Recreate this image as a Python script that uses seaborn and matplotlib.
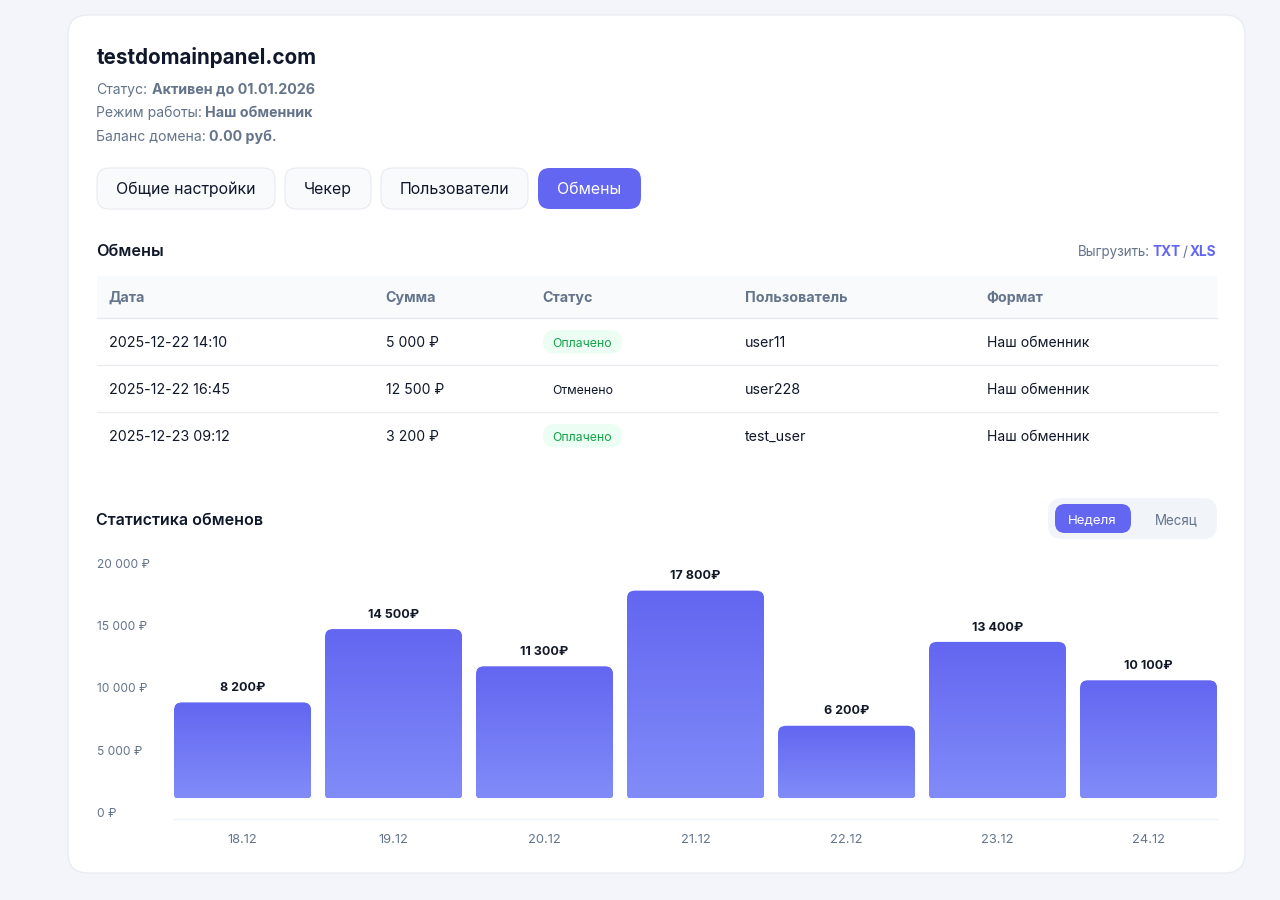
import numpy as np
import pandas as pd
import seaborn as sns
import matplotlib
matplotlib.use("Agg")
import matplotlib.pyplot as plt
from matplotlib.patches import FancyBboxPatch, Rectangle
from matplotlib.path import Path
from matplotlib.colors import LinearSegmentedColormap

# ---- data ----
days = ["18.12", "19.12", "20.12", "21.12", "22.12", "23.12", "24.12"]
amounts = [8200, 14500, 11300, 17800, 6200, 13400, 10100]
bar_labels = ["8 200₽", "14 500₽", "11 300₽", "17 800₽", "6 200₽", "13 400₽", "10 100₽"]
y_ticks = [0, 5000, 10000, 15000, 20000]
y_tick_labels = ["0 ₽", "5 000 ₽", "10 000 ₽", "15 000 ₽", "20 000 ₽"]
table_head = ["Дата", "Сумма", "Статус", "Пользователь", "Формат"]
table_dates = ["2025-12-22 14:10", "2025-12-22 16:45", "2025-12-23 09:12"]
table_sums = ["5 000 ₽", "12 500 ₽", "3 200 ₽"]
table_status = ["Оплачено", "Отменено", "Оплачено"]
table_users = ["user11", "user228", "test_user"]
table_format = ["Наш обменник", "Наш обменник", "Наш обменник"]
tabs = ["Общие настройки", "Чекер", "Пользователи", "Обмены"]

sns.set_theme(style="white")
plt.rcParams["font.family"] = ["Inter", "DejaVu Sans"]

W, H = 1280, 900
PAGE, DARK, SLATE, GREY = "#f3f5fa", "#0f172a", "#64748b", "#6b7280"
ACCENT = "#6366f1"

fig = plt.figure(figsize=(W / 100, H / 100), dpi=100, facecolor=PAGE)

# page furniture, drawn in pixel coordinates
bg = fig.add_axes([0, 0, 1, 1], zorder=0)
bg.set_xlim(0, W)
bg.set_ylim(H, 0)
bg.axis("off")


def box(x0, y0, x1, y1, r, fc, ec="none", lw=0.0):
    bg.add_patch(FancyBboxPatch((x0 + r, y0 + r), x1 - x0 - 2 * r, y1 - y0 - 2 * r,
                                boxstyle=f"round,pad={r},rounding_size={r}",
                                fc=fc, ec=ec, lw=lw))


def T(x, y, s, px, color=DARK, weight="normal", ha="left"):
    # y is the visual middle of the x-height line; baseline keeps mixed weights level
    bg.text(x, y + px * 0.36, s, fontsize=px * 0.72, color=color, fontweight=weight,
            ha=ha, va="baseline")


box(68, 15, 1245, 873, 20, "white", "#e9ecf3", 1.0)

T(96.5, 56.5, "testdomainpanel.com", 20.6, DARK, "bold")
for y, a, xb, b in [(88.5, "Статус:", 151.5, "Активен до 01.01.2026"),
                    (112, "Режим работы:", 205, "Наш обменник"),
                    (135.5, "Баланс домена:", 209, "0.00 руб.")]:
    T(96.5, y, a, 14.0, SLATE)
    T(xb, y, b, 14.3, SLATE, "bold")

for (x0, x1), label, active in zip([(97, 275), (285, 371), (381, 528), (538, 641)], tabs,
                                   [False, False, False, True]):
    if active:
        box(x0, 168, x1, 209, 12, ACCENT)
    else:
        box(x0, 168, x1, 209, 12, "#f8fafc", "#e8ebf0", 0.8)
    T((x0 + x1) / 2, 188.5, label, 15.9, "white" if active else DARK, ha="center")

T(96.5, 250.5, "Обмены", 16.2, DARK, "semibold")
T(1077.5, 251, "Выгрузить:", 13.4, SLATE)
T(1152.5, 251, "TXT", 13.6, ACCENT, "bold")
T(1183, 251, "/", 13.6, SLATE)
T(1190, 251, "XLS", 13.6, ACCENT, "bold")

# table
columns = [109, 386, 543, 745, 987]
bg.add_patch(Rectangle((97, 276), 1120, 42, fc="#f8fafc", ec="none"))
bg.plot([97, 1217], [318, 318], color="#e5e9f0", lw=1.0)
for x, h in zip(columns, table_head):
    T(x - 0.5, 297, h, 14.3, SLATE, "bold")
row_y = [341.5, 388.5, 435.5]
for i, y in enumerate(row_y):
    if i < 2:
        bg.plot([97, 1217], [y + 23, y + 23], color="#e8ebf0", lw=0.9)
    T(columns[0], y, table_dates[i], 14.3)
    T(columns[1] - 0.5, y, table_sums[i], 14.0)
    paid = table_status[i] == "Оплачено"
    if paid:
        box(543, y - 11.5, 622, y + 12, 11.5, "#ecfdf3")
    T(552.5, y + 1, table_status[i], 12.3, "#16a34a" if paid else DARK)
    T(columns[3], y, table_users[i], 14.3)
    T(columns[4], y, table_format[i], 14.0)

T(96.5, 519, "Статистика обменов", 16.0, DARK, "semibold")
box(1048, 498, 1217, 539, 14, "#f1f5f9")
box(1055, 504, 1131, 533, 10, ACCENT)
T(1092.5, 519, "Неделя", 13.3, "white", "normal", ha="center")
T(1176, 519, "Месяц", 13.4, SLATE, "normal", ha="center")

# ---- chart ----
AX_L, AX_R, AX_T, AX_B = 174, 1217, 560, 819
ZERO_PX, PX_PER_UNIT = 798, 0.01165
STEP = 151
BAR_W = 137

ax = fig.add_axes([AX_L / W, 1 - AX_B / H, (AX_R - AX_L) / W, (AX_B - AX_T) / H], zorder=2)
ax.patch.set_alpha(0)
df = pd.DataFrame({"day": days, "amount": amounts})
sns.barplot(data=df, x="day", y="amount", color=ACCENT, saturation=1,
            width=BAR_W / STEP, ax=ax)

half = (BAR_W / 2) / STEP
xlim = (-half, 6 + half)
ylim = ((ZERO_PX - AX_B) / PX_PER_UNIT, (ZERO_PX - AX_T) / PX_PER_UNIT)

cmap = LinearSegmentedColormap.from_list("bar", ["#6366f1", "#818cf8"])
grad = np.linspace(0, 1, 256).reshape(-1, 1)


def rounded(x0, x1, y1, r_top=8, r_bot=3.5):
    tx, ty = r_top / STEP, r_top / PX_PER_UNIT
    bx, by = r_bot / STEP, r_bot / PX_PER_UNIT
    verts = [(x0 + bx, 0), (x1 - bx, 0), (x1, 0), (x1, by), (x1, y1 - ty), (x1, y1), (x1 - tx, y1),
             (x0 + tx, y1), (x0, y1), (x0, y1 - ty), (x0, by), (x0, 0), (x0 + bx, 0), (x0 + bx, 0)]
    codes = [Path.MOVETO, Path.LINETO, Path.CURVE3, Path.CURVE3, Path.LINETO, Path.CURVE3, Path.CURVE3,
             Path.LINETO, Path.CURVE3, Path.CURVE3, Path.LINETO, Path.CURVE3, Path.CURVE3, Path.CLOSEPOLY]
    return Path(verts, codes)


for bar in ax.containers[0]:
    x0, x1 = bar.get_x(), bar.get_x() + bar.get_width()
    top = bar.get_height()
    path = rounded(x0, x1, top)
    bar.set_clip_path(path, ax.transData)
    im = ax.imshow(grad, extent=(x0, x1, 0, top), origin="upper", cmap=cmap, aspect="auto",
                   zorder=bar.get_zorder() + 0.1, interpolation="bilinear")
    im.set_clip_path(path, ax.transData)

ax.bar_label(ax.containers[0], labels=bar_labels, padding=6, fontsize=12.5 * 0.72,
             fontweight="bold", color="#111827", zorder=5)
ax.set_xlim(*xlim)
ax.set_ylim(*ylim)
ax.set_xlabel("")
ax.set_ylabel("")
ax.set_yticks([])
ax.tick_params(axis="x", length=0, pad=10.5, labelsize=12.9 * 0.72, labelcolor=SLATE)
sns.despine(ax=ax, left=True)
ax.spines["bottom"].set_color("#eef1f5")
ax.spines["bottom"].set_linewidth(1.0)

# y labels sit on their own scale, left aligned at the card padding
ay = fig.add_axes([90 / W, 1 - 812.5 / H, 7 / W, (812.5 - 563) / H], zorder=2)
ay.patch.set_alpha(0)
ay.set_ylim(0, 20000)
ay.set_xticks([])
ay.yaxis.tick_right()
ay.set_yticks(y_ticks)
ay.set_yticklabels(y_tick_labels)
ay.tick_params(axis="y", length=0, pad=0, labelsize=12.0 * 0.72, labelcolor=SLATE)
for s in ay.spines.values():
    s.set_visible(False)

fig.savefig("out.png", dpi=100, facecolor=PAGE)
